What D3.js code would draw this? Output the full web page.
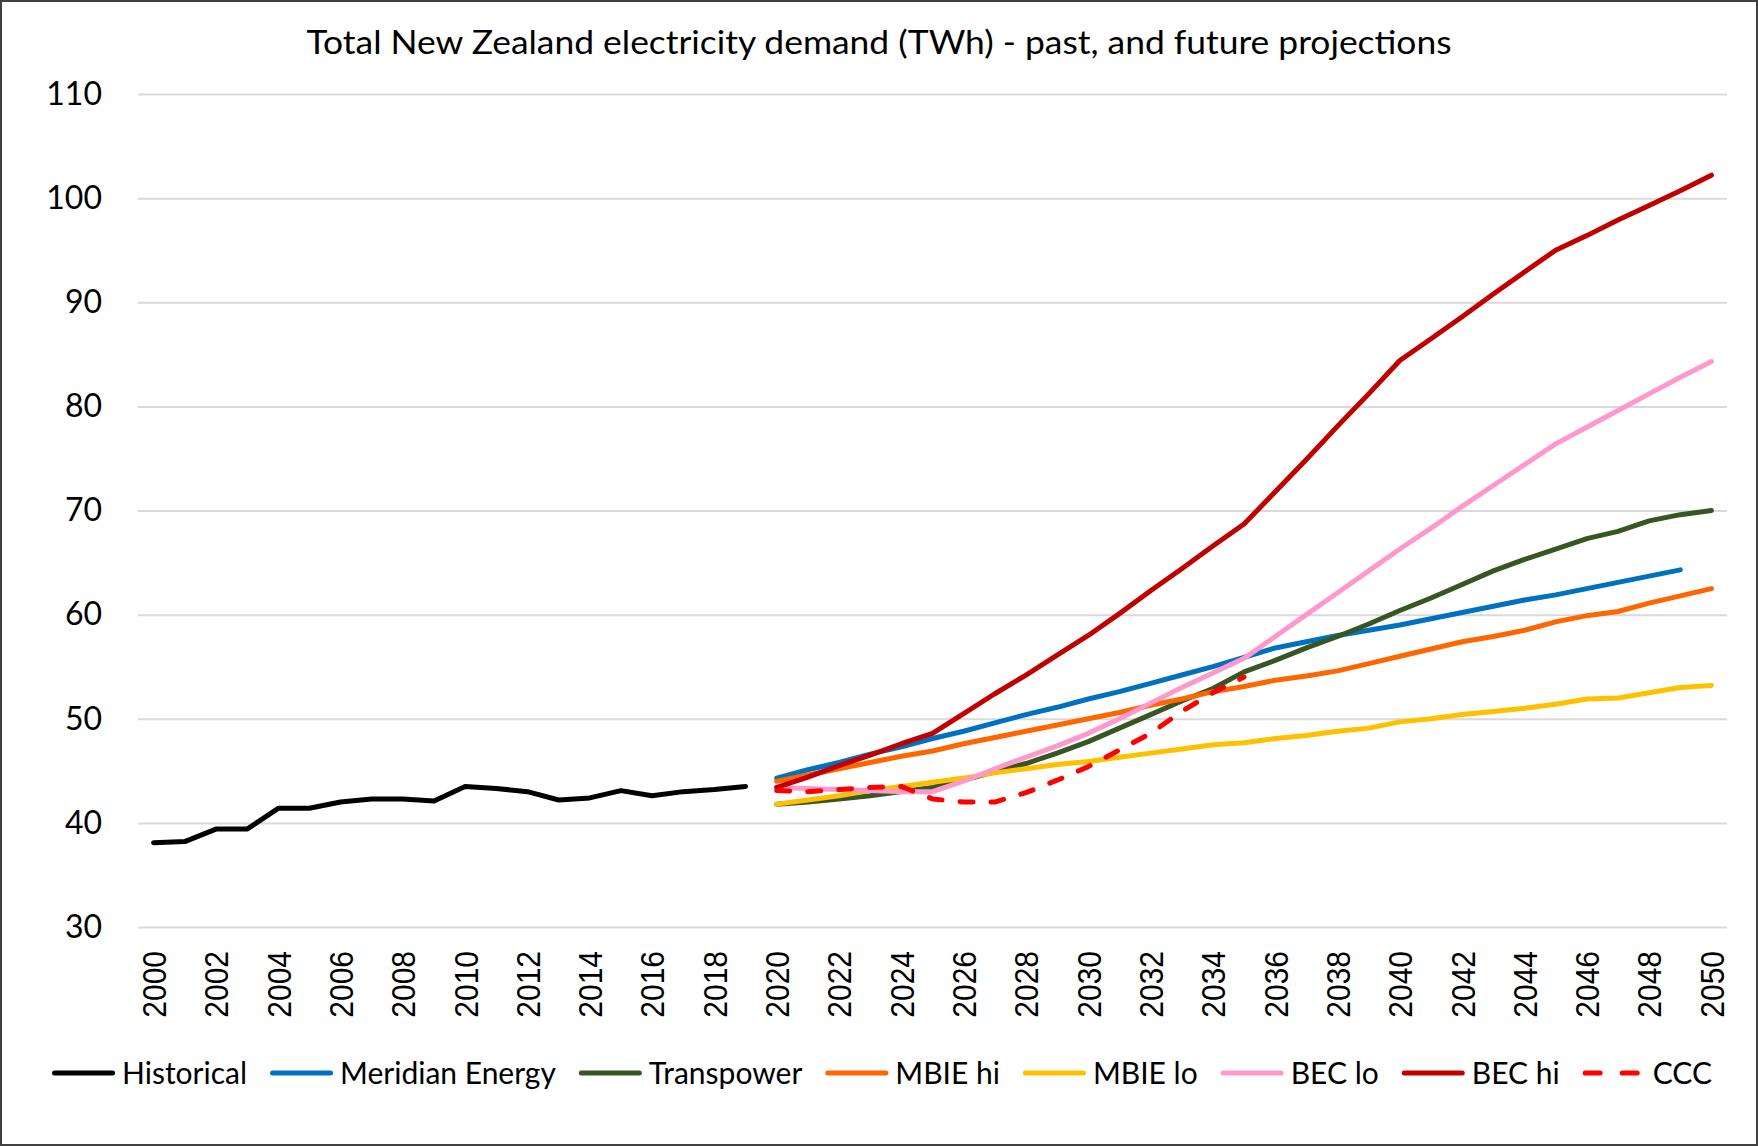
<!DOCTYPE html>
<html>
<head>
<meta charset="utf-8">
<script src="https://cdn.jsdelivr.net/npm/d3@7"></script>
<style>
  body { margin: 0; background: #fff; }
  svg { display: block; }
</style>
</head>
<body>
<main></main>
<script>
const years = [2000, 2001, 2002, 2003, 2004, 2005, 2006, 2007, 2008, 2009,
  2010, 2011, 2012, 2013, 2014, 2015, 2016, 2017, 2018, 2019,
  2020, 2021, 2022, 2023, 2024, 2025, 2026, 2027, 2028, 2029,
  2030, 2031, 2032, 2033, 2034, 2035, 2036, 2037, 2038, 2039,
  2040, 2041, 2042, 2043, 2044, 2045, 2046, 2047, 2048, 2049, 2050]

const yTicks = [30, 40, 50, 60, 70, 80, 90, 100, 110]

// TWh, historical from 2000, all projections from 2020
const historical = [38.1, 38.2, 39.4, 39.4, 41.4, 41.4, 42.0, 42.3, 42.3, 42.1,
  43.5, 43.3, 43.0, 42.2, 42.4, 43.1, 42.6, 43.0, 43.2, 43.5]
const meridian = [44.3, 45.1, 45.8, 46.6, 47.3, 48.1, 48.8, 49.6, 50.4, 51.1,
  51.9, 52.6, 53.4, 54.2, 55.0, 55.9, 56.8, 57.4, 58.0, 58.5,
  59.0, 59.6, 60.2, 60.8, 61.4, 61.9, 62.5, 63.1, 63.7, 64.3]
const transpower = [41.8, 42.0, 42.3, 42.6, 43.0, 43.4, 44.1, 44.9, 45.7, 46.7,
  47.8, 49.1, 50.4, 51.7, 52.9, 54.5, 55.6, 56.8, 57.9, 59.1,
  60.4, 61.6, 62.9, 64.2, 65.3, 66.3, 67.3, 68.0, 69.0, 69.6, 70.0]
const mbieHi = [44.0, 44.6, 45.2, 45.8, 46.4, 46.9, 47.6, 48.2, 48.8, 49.4,
  50.0, 50.6, 51.3, 51.9, 52.6, 53.1, 53.7, 54.1, 54.6, 55.3,
  56.0, 56.7, 57.4, 57.9, 58.5, 59.3, 59.9, 60.3, 61.1, 61.8, 62.5]
const mbieLo = [41.8, 42.2, 42.6, 43.1, 43.5, 43.9, 44.3, 44.8, 45.2, 45.6,
  45.9, 46.3, 46.7, 47.1, 47.5, 47.7, 48.1, 48.4, 48.8, 49.1,
  49.7, 50.0, 50.4, 50.7, 51.0, 51.4, 51.9, 52.0, 52.5, 53.0, 53.2]
const becLo = [43.4, 43.3, 43.2, 43.1, 43.0, 43.0, 44.0, 45.2, 46.3, 47.4,
  48.6, 50.0, 51.5, 53.0, 54.4, 55.8, 57.9, 60.0, 62.1, 64.2,
  66.3, 68.3, 70.4, 72.4, 74.4, 76.4, 78.0, 79.6, 81.2, 82.8, 84.3]
const becHi = [43.4, 44.4, 45.5, 46.5, 47.6, 48.6, 50.5, 52.4, 54.2, 56.1,
  58.0, 60.1, 62.3, 64.4, 66.6, 68.7, 71.8, 74.9, 78.1, 81.2,
  84.4, 86.5, 88.6, 90.8, 92.9, 95.0, 96.4, 97.9, 99.3, 100.7, 102.2]
const ccc = [43.1, 43.0, 43.2, 43.4, 43.5, 42.3, 42.0, 42.0, 42.9, 44.1,
  45.4, 47.0, 48.6, 50.7, 52.5, 54.0]

const seriesNames = ['Historical', 'Meridian Energy', 'Transpower', 'MBIE hi', 'MBIE lo', 'BEC lo', 'BEC hi', 'CCC']
const seriesValues = [historical, meridian, transpower, mbieHi, mbieLo, becLo, becHi, ccc]
const seriesStart = [2000, 2020, 2020, 2020, 2020, 2020, 2020, 2020]
const seriesColors = ['#000000', '#0070C0', '#375623', '#FF6600', '#FFC000', '#FF99CC', '#C00000', '#FF0000']

const width = 1758
const height = 1146
const plot = { left: 138, right: 1727, top: 94, bottom: 927 }
const lineWidth = 5
const calibriLike = 'Lato, "Open Sans", sans-serif'

const createCanvas = () => {
  return d3.select('main')
    .append('svg')
    .attr('width', width)
    .attr('height', height)
}

const defineScales = () => {
  const xScale = d3.scalePoint()
    .domain(years)
    .range([plot.left, plot.right])
    .padding(0.5)
  const yScale = d3.scaleLinear()
    .domain([30, 110])
    .range([plot.bottom, plot.top])
  return { xScale, yScale }
}

const createTitle = (svg) => {
  svg.append('text')
    .attr('x', 879)
    .attr('y', 54)
    .attr('text-anchor', 'middle')
    .attr('font-family', calibriLike)
    .attr('font-size', 33)
    .attr('fill', '#000')
    .attr('textLength', 1145)
    .attr('lengthAdjust', 'spacingAndGlyphs')
    .text('Total New Zealand electricity demand (TWh) - past, and future projections')
}

const createAxes = (svg, scales) => {
  const yAxis = svg.append('g')
    .attr('id', 'y-axis')
    .attr('transform', `translate(${plot.left},0)`)
    .call(d3.axisLeft(scales.yScale)
      .tickValues(yTicks)
      .tickSize(-(plot.right - plot.left))
      .tickPadding(36))
  yAxis.select('.domain').remove()
  yAxis.selectAll('.tick line')
    .attr('stroke', '#D9D9D9')
    .attr('stroke-width', 2)
  yAxis.selectAll('.tick text')
    .attr('font-family', calibriLike)
    .attr('font-size', 32)
    .attr('fill', '#000')

  const xAxis = svg.append('g')
    .attr('id', 'x-axis')
    .attr('transform', `translate(0,${plot.bottom})`)
    .call(d3.axisBottom(scales.xScale)
      .tickValues(years.filter((d, i) => i % 2 === 0))
      .tickSize(0))
  xAxis.select('.domain').remove()
  xAxis.selectAll('.tick text')
    .attr('font-family', '"Liberation Sans", Arial, sans-serif')
    .attr('font-size', 30)
    .attr('fill', '#000')
    .attr('text-anchor', 'end')
    .attr('transform', 'rotate(-90) scale(1, 1.1)')
    .attr('x', -24)
    .attr('y', 0)
    .attr('dy', '0.36em')
}

const buildSeries = () => {
  return seriesNames.map((name, i) => {
    const start = years.indexOf(seriesStart[i])
    const yrs = years.slice(start, start + seriesValues[i].length)
    return {
      name,
      color: seriesColors[i],
      dashed: name === 'CCC',
      points: seriesValues[i].map((v, j) => ({ year: yrs[j], value: v }))
    }
  })
}

const createLines = (svg, scales, series) => {
  const line = d3.line()
    .x(d => scales.xScale(d.year))
    .y(d => scales.yScale(d.value))

  svg.append('g')
    .attr('class', 'lines')
    .selectAll('path')
    .data(series)
    .enter()
    .append('path')
    .attr('d', d => line(d.points))
    .attr('fill', 'none')
    .attr('stroke', d => d.color)
    .attr('stroke-width', lineWidth)
    .attr('stroke-linejoin', 'round')
    .attr('stroke-linecap', 'round')
    .attr('stroke-dasharray', d => d.dashed ? '13,18' : null)
}

const createLegend = (svg, series) => {
  const legendY = 1073
  const sample = 63
  const textGap = 7
  const itemGap = 23
  const cap = lineWidth / 2
  const g = svg.append('g').attr('class', 'legend')
  const items = g.selectAll('g')
    .data(series)
    .enter()
    .append('g')

  items.append('line')
    .attr('x1', cap)
    .attr('x2', sample - cap)
    .attr('stroke', d => d.color)
    .attr('stroke-width', lineWidth)
    .attr('stroke-linecap', 'round')
    .attr('stroke-dasharray', d => d.dashed ? '15,22' : null)

  items.append('text')
    .attr('x', sample + textGap)
    .attr('dy', '0.35em')
    .attr('font-family', calibriLike)
    .attr('font-size', 30)
    .attr('fill', '#000')
    .text(d => d.name)

  // lay the items out one after another, then centre the row
  let x = 0
  const offsets = []
  items.each(function () {
    offsets.push(x)
    const w = d3.select(this).select('text').node().getComputedTextLength()
    x += sample + textGap + w + itemGap
  })
  const total = x - itemGap
  const startX = 882 - total / 2
  items.attr('transform', (d, i) => `translate(${startX + offsets[i]},${legendY})`)
}

const createBorder = (svg) => {
  svg.append('rect')
    .attr('x', 1)
    .attr('y', 1)
    .attr('width', width - 2)
    .attr('height', height - 2)
    .attr('fill', 'none')
    .attr('stroke', '#404040')
    .attr('stroke-width', 2)
}

const starter = () => {
  const svg = createCanvas()
  const scales = defineScales()
  createTitle(svg)
  createAxes(svg, scales)
  const series = buildSeries()
  createLines(svg, scales, series)
  createLegend(svg, series)
  createBorder(svg)
}

starter()
</script>
</body>
</html>
